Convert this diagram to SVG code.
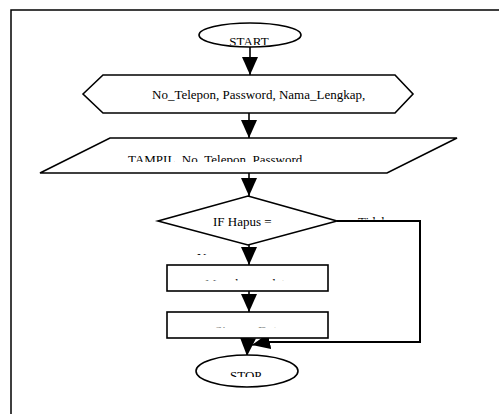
<svg xmlns="http://www.w3.org/2000/svg" width="499" height="414" viewBox="0 0 499 414">
  <style>
    .shape { fill: #ffffff; stroke: #000000; stroke-width: 1.6; }
    .wire { fill: none; stroke: #000000; stroke-width: 1.6; }
    .frame { fill: none; stroke: #000000; stroke-width: 1.5; }
    .label { font-family: "Liberation Serif", "Times New Roman", serif; font-size: 13px; fill: #000000; }
  </style>
  <defs>
    <marker id="head" markerUnits="userSpaceOnUse" markerWidth="18" markerHeight="22" refX="18" refY="8" orient="auto">
      <polygon points="0,0 18,8 0,16" fill="#000000"/>
    </marker>
    <!-- text boxes that cut off the lower part of their labels -->
    <clipPath id="cStart"><rect x="0" y="0" width="499" height="45"/></clipPath>
    <clipPath id="cShow"><rect x="0" y="0" width="499" height="162"/></clipPath>
    <clipPath id="cNo"><rect x="0" y="0" width="499" height="219.5"/></clipPath>
    <clipPath id="cYes"><rect x="0" y="0" width="499" height="255"/></clipPath>
    <clipPath id="cDel"><rect x="0" y="0" width="499" height="280.5"/></clipPath>
    <clipPath id="cSave"><rect x="0" y="0" width="499" height="327.5"/></clipPath>
    <clipPath id="cStop"><rect x="0" y="0" width="499" height="377"/></clipPath>
  </defs>

  <rect width="499" height="414" fill="#ffffff"/>
  <!-- page frame -->
  <polyline class="frame" points="11,414 11,10 499,10"/>

  <g id="connectors">
    <line class="wire" x1="250" y1="47" x2="250" y2="75" marker-end="url(#head)"/>
    <line class="wire" x1="249" y1="113" x2="249" y2="138" marker-end="url(#head)"/>
    <line class="wire" x1="249" y1="173" x2="249" y2="196" marker-end="url(#head)"/>
    <line class="wire" x1="249" y1="245" x2="249" y2="265" marker-end="url(#head)"/>
    <line class="wire" x1="249" y1="291" x2="249" y2="312" marker-end="url(#head)"/>
    <line class="wire" x1="248" y1="338" x2="247" y2="356" marker-end="url(#head)"/>
    <polyline class="wire" points="337,221 420,221 420,342 265,342" style="stroke-width:2"/>
    <line class="wire" x1="266" y1="342" x2="252" y2="345" marker-end="url(#head)"/>
    <g clip-path="url(#cNo)"><text class="label" x="358" y="225.6">Tidak</text></g>
    <g clip-path="url(#cYes)"><text class="label" x="197" y="261.6">Ya</text></g>
  </g>

  <g id="start">
    <ellipse class="shape" cx="250" cy="35" rx="51" ry="12"/>
    <g clip-path="url(#cStart)"><text class="label" x="249" y="46" text-anchor="middle">START</text></g>
  </g>

  <g id="input">
    <polygon class="shape" points="83,94 103,75 395,75 413,94 395,113 103,113"/>
    <text class="label" x="152" y="99">No_Telepon, Password, Nama_Lengkap,</text>
  </g>

  <g id="show">
    <polygon class="shape" points="110,138 457,138 387,173 40,173"/>
    <g clip-path="url(#cShow)"><text class="label" x="128" y="164">TAMPIL, No_Telepon, Password</text></g>
  </g>

  <g id="decision">
    <polygon class="shape" points="248,196 337,221 248,245 158,221"/>
    <text class="label" x="213" y="226">IF Hapus =</text>
  </g>

  <g id="delete">
    <rect class="shape" x="167" y="265" width="161" height="26"/>
    <g clip-path="url(#cDel)"><text class="label" x="205" y="287.6">Menghapus data</text></g>
  </g>

  <g id="save">
    <rect class="shape" x="167" y="312" width="161" height="26"/>
    <g clip-path="url(#cSave)"><text class="label" x="215" y="334.6">Simpan Data</text></g>
  </g>

  <g id="stop">
    <ellipse class="shape" cx="247" cy="371" rx="51" ry="16"/>
    <g clip-path="url(#cStop)"><text class="label" x="230" y="380">STOP</text></g>
  </g>
</svg>
